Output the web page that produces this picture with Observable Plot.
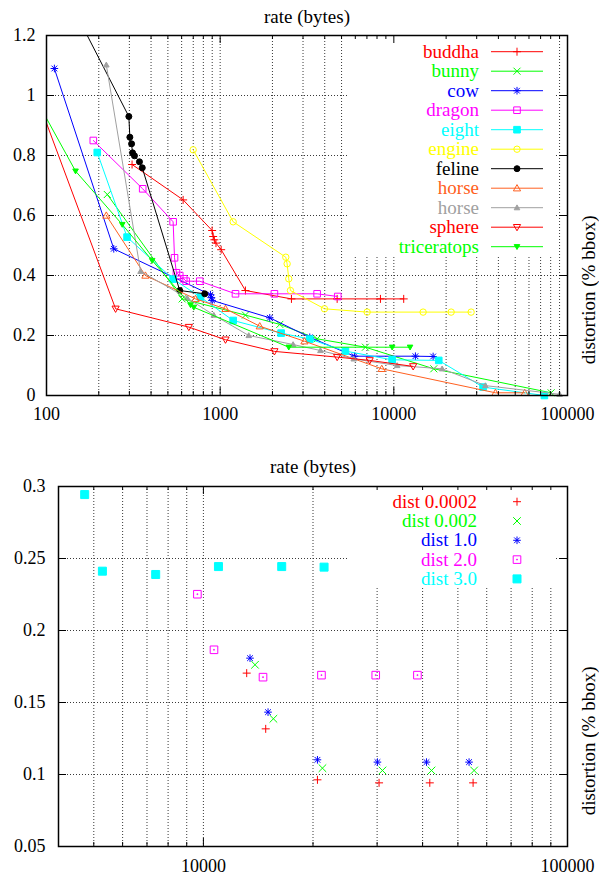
<!DOCTYPE html>
<html><head><meta charset="utf-8">
<script src="https://cdn.jsdelivr.net/npm/d3@7"></script>
<script src="https://cdn.jsdelivr.net/npm/@observablehq/plot@0.6"></script>
<style>
body{margin:0;background:#fff;}
svg{display:block;}
svg, svg text, svg g { font-family: "Liberation Serif", "DejaVu Serif", serif !important; }
</style>
</head><body>
<div id="chart"></div>
<script>
// ---------------- DATA: top chart (rate in bytes, distortion in % bbox) ----------------
const topNames = ["buddha","bunny","cow","dragon","eight","engine","feline","horse","horse","sphere","triceratops"];

const buddhaRate = [311, 612, 899, 911, 926, 946, 1013, 1398, 2573, 4716, 8373, 11400];
const buddhaDist = [0.77, 0.652, 0.55, 0.53, 0.519, 0.508, 0.486, 0.35, 0.322, 0.322, 0.322, 0.322];

const bunnyRate = [224, 604, 1398, 2205, 3617, 6862, 16980, 80500];
const bunnyDist = [0.67, 0.322, 0.268, 0.237, 0.189, 0.161, 0.089, 0.009];

const cowRate = [111, 244, 879, 891, 899, 1930, 3281, 5933, 13314, 16835];
const cowDist = [1.09, 0.489, 0.336, 0.326, 0.317, 0.259, 0.194, 0.131, 0.131, 0.13];

const dragonRate = [186, 358, 536, 546, 560, 585, 617, 637, 763, 1225, 2053, 3617, 4755];
const dragonDist = [0.85, 0.689, 0.579, 0.459, 0.409, 0.4, 0.389, 0.381, 0.381, 0.339, 0.339, 0.339, 0.33];

const eightRate = [196, 291, 536, 770, 1188, 2244, 3280, 5265, 9780, 18140, 32660, 73600];
const eightDist = [0.81, 0.528, 0.388, 0.328, 0.25, 0.208, 0.188, 0.148, 0.119, 0.117, 0.028, 0.0];

const engineRate = [699, 1188, 2387, 2430, 2483, 2539, 3986, 7020, 14745, 21380, 27860];
const engineDist = [0.819, 0.579, 0.461, 0.439, 0.389, 0.35, 0.289, 0.278, 0.278, 0.278, 0.278];

const felineRate = [147, 298, 302, 309, 313, 321, 343, 356, 585, 815];
const felineDist = [1.276, 0.93, 0.861, 0.839, 0.809, 0.799, 0.779, 0.759, 0.35, 0.339];

const horseRate = [221, 371, 721, 1073, 1690, 3057, 8520, 38460, 56700];
const horseDist = [0.6, 0.4, 0.322, 0.289, 0.231, 0.181, 0.089, 0.009, 0.009];

const horse2Rate = [221, 348, 646, 919, 1461, 2630, 3779, 5876, 10450, 18970, 33650, 90000];
const horse2Dist = [1.102, 0.414, 0.325, 0.268, 0.2, 0.17, 0.15, 0.122, 0.1, 0.089, 0.033, 0.004];

const sphereRate = [81, 250, 660, 1073, 2053, 4716, 7262, 12920];
const sphereDist = [1.05, 0.289, 0.228, 0.186, 0.147, 0.128, 0.117, 0.097];

const triceratopsRate = [81, 147, 273, 406, 675, 705, 2483, 9780, 12400];
const triceratopsDist = [1.02, 0.748, 0.57, 0.45, 0.302, 0.294, 0.161, 0.161, 0.161];

const topRates = [buddhaRate, bunnyRate, cowRate, dragonRate, eightRate, engineRate, felineRate, horseRate, horse2Rate, sphereRate, triceratopsRate];
const topDists = [buddhaDist, bunnyDist, cowDist, dragonDist, eightDist, engineDist, felineDist, horseDist, horse2Dist, sphereDist, triceratopsDist];

const topXTicks = [100, 1000, 10000, 100000];
const topXMinor = [200,300,400,500,600,700,800,900,2000,3000,4000,5000,6000,7000,8000,9000,20000,30000,40000,50000,60000,70000,80000,90000];
const topYTicks = [0, 0.2, 0.4, 0.6, 0.8, 1, 1.2];

// ---------------- DATA: bottom chart ----------------
const bottomNames = ["dist 0.0002", "dist 0.002", "dist 1.0", "dist 2.0", "dist 3.0"];
const d0002Rate = [13150, 14830, 20570, 30370, 41860, 55050];
const d0002Dist = [0.1704, 0.1317, 0.0963, 0.0942, 0.0942, 0.0942];
const d002Rate = [13860, 15570, 21230, 31030, 42320, 55400];
const d002Dist = [0.1762, 0.1387, 0.1044, 0.1028, 0.1028, 0.1028];
const d1Rate = [13430, 15050, 20570, 30060, 40990, 53660];
const d1Dist = [0.1808, 0.1433, 0.1102, 0.1086, 0.1086, 0.1086];
const d2Rate = [9627, 10693, 14580, 21100, 29740, 38710];
const d2Dist = [0.2252, 0.1866, 0.1676, 0.169, 0.169, 0.169];
const d3Rate = [4720, 5280, 7396, 11000, 16410, 21450];
const d3Dist = [0.2944, 0.2412, 0.2389, 0.2444, 0.2444, 0.244];
const bottomRates = [d0002Rate, d002Rate, d1Rate, d2Rate, d3Rate];
const bottomDists = [d0002Dist, d002Dist, d1Dist, d2Dist, d3Dist];

const bottomXTicks = [10000, 100000];
const bottomXMinor = [5000,6000,7000,8000,9000,20000,30000,40000,50000,60000,70000,80000,90000];
const bottomYTicks = [0.05, 0.1, 0.15, 0.2, 0.25, 0.3];

const xLabel = "rate (bytes)";
const yLabel = "distortion (% bbox)";

// ---------------- STYLES ----------------
const hs = s => Math.sqrt(s / Math.PI);
const symbols = {
  plus: {draw(c, s){const h=hs(s); c.moveTo(-h,0); c.lineTo(h,0); c.moveTo(0,-h); c.lineTo(0,h);}},
  times: {draw(c, s){const h=hs(s); c.moveTo(-h,-h); c.lineTo(h,h); c.moveTo(-h,h); c.lineTo(h,-h);}},
  asterisk: {draw(c, s){const h=hs(s), k=h*0.75; c.moveTo(-h,0); c.lineTo(h,0); c.moveTo(0,-h); c.lineTo(0,h); c.moveTo(-k,-k); c.lineTo(k,k); c.moveTo(-k,k); c.lineTo(k,-k);}},
  square: {draw(c, s){const h=hs(s); c.rect(-h,-h,2*h,2*h);}},
  squareDot: {draw(c, s){const h=hs(s); c.rect(-h,-h,2*h,2*h); c.rect(-0.4,-0.4,0.8,0.8);}},
  circle: {draw(c, s){const h=hs(s); c.moveTo(h,0); c.arc(0,0,h,0,2*Math.PI);}},
  triUp: {draw(c, s){const h=hs(s); c.moveTo(0,-h); c.lineTo(h,h*0.75); c.lineTo(-h,h*0.75); c.closePath();}},
  triDown: {draw(c, s){const h=hs(s); c.moveTo(0,h); c.lineTo(h,-h*0.75); c.lineTo(-h,-h*0.75); c.closePath();}}
};

const topStyles = [
  {color:"#ff0000", symbol:"plus", filled:false, r:4},
  {color:"#00ff00", symbol:"times", filled:false, r:3.5},
  {color:"#0000ff", symbol:"asterisk", filled:false, r:3.8},
  {color:"#ff00ff", symbol:"square", filled:false, r:3.3},
  {color:"#00ffff", symbol:"square", filled:true, r:3.3},
  {color:"#ffff00", symbol:"circle", filled:false, r:3.2},
  {color:"#000000", symbol:"circle", filled:true, r:3},
  {color:"#ff6020", symbol:"triUp", filled:false, r:3.6},
  {color:"#a0a0a0", symbol:"triUp", filled:true, r:2.8},
  {color:"#ff0000", symbol:"triDown", filled:false, r:3.6},
  {color:"#00ff00", symbol:"triDown", filled:true, r:2.8}
];
const bottomStyles = [
  {color:"#ff0000", symbol:"plus", filled:false, r:4},
  {color:"#00ff00", symbol:"times", filled:false, r:3.8},
  {color:"#0000ff", symbol:"asterisk", filled:false, r:3.8},
  {color:"#ff00ff", symbol:"squareDot", filled:false, r:3.8},
  {color:"#00ffff", symbol:"square", filled:true, r:4}
];

const FONT = "Liberation Serif, DejaVu Serif, serif";

function seriesMarks(rates, dists, styles, xDomain, yDomain, withLines) {
  const marks = [];
  rates.forEach((rs, i) => {
    const rows = rs.map((r, j) => ({rate: r, dist: dists[i][j]}));
    const st = styles[i];
    if (withLines) marks.push(Plot.line(rows, {x:"rate", y:"dist", stroke: st.color, strokeWidth: 1, clip: true}));
    const inside = rows.filter(d => d.rate >= xDomain[0] && d.rate <= xDomain[1] && d.dist >= yDomain[0] && d.dist <= yDomain[1]);
    marks.push(Plot.dot(inside, {x:"rate", y:"dist", symbol: symbols[st.symbol], r: st.r,
      fill: st.filled ? st.color : "none", stroke: st.color, strokeWidth: 1}));
  });
  return marks;
}

function legendMark(names, styles, o) {
  return (index, scales, values, dims) => {
    const g = d3.create("svg:g");
    const right = dims.width - dims.marginRight, top = dims.marginTop;
    const bx = dims.marginLeft + o.bgLeft;
    g.append("rect").attr("x", bx).attr("y", top + 1)
      .attr("width", right - o.bgRightInset - bx).attr("height", o.bgHeight)
      .attr("fill", "white");
    names.forEach((n, i) => {
      const y = top + o.first + i * o.step;
      const st = styles[i];
      g.append("text").attr("x", right - o.textRight).attr("y", y).attr("dy", "0.32em")
        .attr("text-anchor", "end").attr("fill", st.color).attr("font-size", 19).text(n);
      if (o.lines) {
        g.append("line").attr("x1", right - o.lineStart).attr("x2", right - o.lineEnd)
          .attr("y1", y).attr("y2", y).attr("stroke", st.color).attr("stroke-width", 1);
      }
      g.append("path").attr("transform", `translate(${right - o.marker},${y})`)
        .attr("d", d3.symbol(symbols[st.symbol], Math.PI * st.r * st.r)())
        .attr("fill", st.filled ? st.color : "none").attr("stroke", st.color).attr("stroke-width", 1);
    });
    return g.node();
  };
}

function tickMarks(xMajor, xMinor, yMajor, fw, fh) {
  const M = 8, m = 4;
  return [
    Plot.ruleX(xMajor, {x: d => d, insetTop: fh - M, stroke: "#000"}),
    Plot.ruleX(xMajor, {x: d => d, insetBottom: fh - M, stroke: "#000"}),
    Plot.ruleX(xMinor, {x: d => d, insetTop: fh - m, stroke: "#000"}),
    Plot.ruleX(xMinor, {x: d => d, insetBottom: fh - m, stroke: "#000"}),
    Plot.ruleY(yMajor, {y: d => d, insetRight: fw - M, stroke: "#000"}),
    Plot.ruleY(yMajor, {y: d => d, insetLeft: fw - M, stroke: "#000"})
  ];
}

function chart(cfg) {
  const fw = cfg.width - cfg.marginLeft - cfg.marginRight;
  const fh = cfg.height - cfg.marginTop - cfg.marginBottom;
  const gridX = cfg.xMinor.concat(cfg.xTicks);
  const gridY = cfg.yTicks;
  return Plot.plot({
    width: cfg.width, height: cfg.height,
    marginLeft: cfg.marginLeft, marginRight: cfg.marginRight,
    marginTop: cfg.marginTop, marginBottom: cfg.marginBottom,
    style: {fontFamily: FONT, fontSize: "18px", color: "black", background: "white", overflow: "visible"},
    x: {type: "log", domain: cfg.xDomain, axis: null},
    y: {type: "linear", domain: cfg.yDomain, axis: null},
    marks: [
      Plot.ruleX(gridX, {x: d => d, stroke: "#222", strokeWidth: 0.9, strokeDasharray: "1,2"}),
      Plot.ruleY(gridY, {y: d => d, stroke: "#222", strokeWidth: 0.9, strokeDasharray: "1,2"}),
      legendMark(cfg.names, cfg.styles, cfg.legend),
      ...seriesMarks(cfg.rates, cfg.dists, cfg.styles, cfg.xDomain, cfg.yDomain, cfg.withLines),
      ...tickMarks(cfg.xTicks, cfg.xMinor, cfg.yTicks, fw, fh),
      Plot.frame({stroke: "#000", strokeWidth: 1.5}),
      Plot.axisX({ticks: cfg.xTicks, tickFormat: d => String(d), tickSize: 0, tickPadding: cfg.xPad, fontSize: 18, label: null}),
      Plot.axisY({ticks: cfg.yTicks, tickFormat: d => String(d), tickSize: 0, tickPadding: cfg.yPad, fontSize: 18, label: null}),
      Plot.text([xLabel], {text: d => d, frameAnchor: "top", dy: cfg.titleDy, lineAnchor: "bottom", fontSize: 19}),
      Plot.text([yLabel], {text: d => d, frameAnchor: "right", rotate: -90, dx: 21, fontSize: 19})
    ]
  });
}

const topChart = chart({
  width: 599, height: 435, marginLeft: 46, marginRight: 32, marginTop: 35, marginBottom: 40,
  xDomain: [100, 100000], yDomain: [0, 1.2],
  xTicks: topXTicks, xMinor: topXMinor, yTicks: topYTicks,
  names: topNames, styles: topStyles, rates: topRates, dists: topDists, withLines: true,
  legend: {bgLeft: 303, bgRightInset: 11, bgHeight: 220, first: 16.7, step: 19.5, textRight: 88, lines: true, lineStart: 76, lineEnd: 24, marker: 50},
  xPad: 12, yPad: 11, titleDy: -13
});

const bottomChart = chart({
  width: 599, height: 441, marginLeft: 58, marginRight: 32, marginTop: 51, marginBottom: 30,
  xDomain: [4000, 100000], yDomain: [0.05, 0.3],
  xTicks: bottomXTicks, xMinor: bottomXMinor, yTicks: bottomYTicks,
  names: bottomNames, styles: bottomStyles, rates: bottomRates, dists: bottomDists, withLines: false,
  legend: {bgLeft: 289, bgRightInset: 11, bgHeight: 101, first: 15.7, step: 19.3, textRight: 90, lines: false, marker: 50},
  xPad: 13, yPad: 13, titleDy: -14
});

const root = document.getElementById("chart");
root.appendChild(topChart);
root.appendChild(bottomChart);
</script>
</body></html>
